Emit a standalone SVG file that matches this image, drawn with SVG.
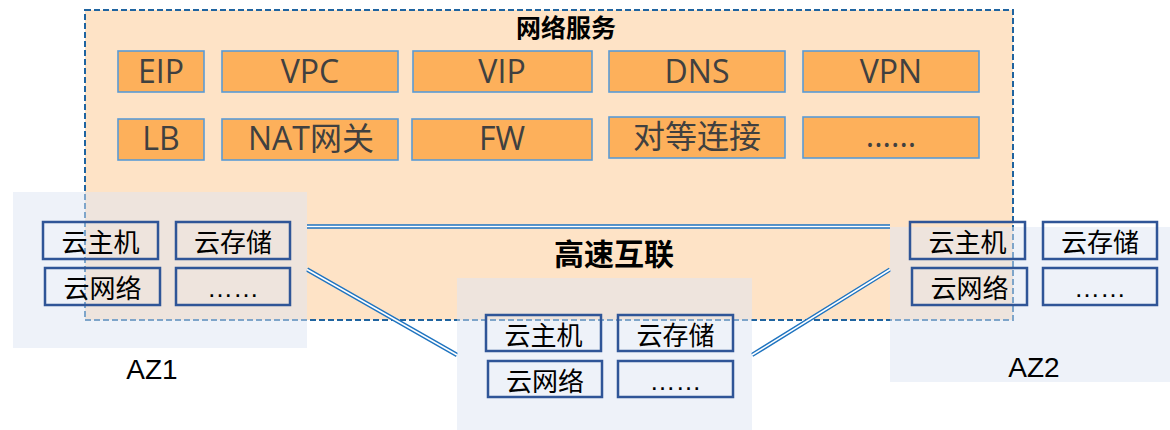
<svg xmlns="http://www.w3.org/2000/svg" width="1170" height="430" viewBox="0 0 1170 430">
<style>
.bg{fill:#fee3c6;stroke:#1f64a0;stroke-width:2;stroke-dasharray:6 3}
.ob{fill:#fdb05b;stroke:#5b9bd5;stroke-width:1.6}
.ot{font-family:"Open Sans","Noto Sans CJK SC",sans-serif;font-size:32px;fill:#404040;text-anchor:middle}
.ttl{font-family:"Noto Sans CJK SC",sans-serif;font-weight:bold;fill:#000;text-anchor:middle}
.panel{fill:#dde5f3;fill-opacity:0.5}
.ib{fill:none;stroke:#2f5597;stroke-width:2.5}
.it{font-family:"Noto Sans CJK SC",sans-serif;font-size:26px;fill:#000;text-anchor:middle;dominant-baseline:central}
.dots{font-family:"Liberation Sans",sans-serif;font-size:26px;fill:#000;text-anchor:middle}
.az{font-family:"Liberation Sans",sans-serif;font-size:28px;fill:#000;text-anchor:middle}
.lo{fill:none;stroke:#1f74c0;stroke-width:4.4}
.li{fill:none;stroke:#fff;stroke-width:1.5}
</style>
<g id="network-services">
<rect class="bg" x="85" y="10" width="928" height="310"/>
<text class="ttl" x="566" y="37" font-size="25">网络服务</text>
</g>
<g id="svc-eip"><rect class="ob" x="118" y="51" width="86" height="41"/><text class="ot" x="161" y="83">EIP</text></g>
<g id="svc-vpc"><rect class="ob" x="222" y="51" width="176" height="41"/><text class="ot" x="310" y="83">VPC</text></g>
<g id="svc-vip"><rect class="ob" x="413" y="51" width="179" height="41"/><text class="ot" x="502" y="83">VIP</text></g>
<g id="svc-dns"><rect class="ob" x="609" y="51" width="176" height="41"/><text class="ot" x="697" y="83">DNS</text></g>
<g id="svc-vpn"><rect class="ob" x="803" y="51" width="176" height="41"/><text class="ot" x="891" y="83">VPN</text></g>
<g id="svc-lb"><rect class="ob" x="118" y="119" width="86" height="41"/><text class="ot" x="161" y="150">LB</text></g>
<g id="svc-nat"><rect class="ob" x="222" y="119" width="176" height="41"/><text class="ot" x="311" y="150">NAT网关</text></g>
<g id="svc-fw"><rect class="ob" x="412" y="119" width="180" height="41"/><text class="ot" x="502" y="150">FW</text></g>
<g id="svc-peering"><rect class="ob" x="609" y="117" width="176" height="41"/><text class="ot" x="697" y="148">对等连接</text></g>
<g id="svc-more"><rect class="ob" x="803" y="117" width="176" height="41"/><text class="ot" x="891" y="147">......</text></g>
<g id="connectors">
<path class="lo" d="M307,226.5 H890 M307,269.5 L457,355 M752,355 L890,269.5"/>
<path class="li" d="M307,226.5 H890 M307,269.5 L457,355 M752,355 L890,269.5"/>
</g>
<g id="interconnect-label"><text class="ttl" x="614" y="265" font-size="30">高速互联</text></g>
<g id="az1">
<rect class="panel" x="13" y="192" width="294" height="156"/>
<rect class="ib" x="43" y="222" width="115" height="37"/><text class="it" x="100.5" y="240.5">云主机</text>
<rect class="ib" x="176" y="222" width="114" height="37"/><text class="it" x="233" y="240.5">云存储</text>
<rect class="ib" x="45" y="268" width="115" height="37"/><text class="it" x="102.5" y="286.5">云网络</text>
<rect class="ib" x="176" y="268" width="114" height="37"/><text class="dots" x="233" y="297">……</text>
<text class="az" x="152" y="379">AZ1</text>
</g>
<g id="az-middle">
<rect class="panel" x="457" y="278" width="295" height="152"/>
<rect class="ib" x="486" y="315" width="115" height="36"/><text class="it" x="543.5" y="333">云主机</text>
<rect class="ib" x="618" y="315" width="115" height="36"/><text class="it" x="675.5" y="333">云存储</text>
<rect class="ib" x="488" y="361" width="114" height="36"/><text class="it" x="545" y="379">云网络</text>
<rect class="ib" x="618" y="361" width="115" height="36"/><text class="dots" x="675.5" y="390">……</text>
</g>
<g id="az2">
<rect class="panel" x="890" y="227" width="280" height="155"/>
<rect class="ib" x="910" y="222" width="115" height="37"/><text class="it" x="967.5" y="240.5">云主机</text>
<rect class="ib" x="1043" y="222" width="114" height="37"/><text class="it" x="1100" y="240.5">云存储</text>
<rect class="ib" x="912" y="268" width="115" height="37"/><text class="it" x="969.5" y="286.5">云网络</text>
<rect class="ib" x="1043" y="268" width="114" height="37"/><text class="dots" x="1100" y="297">……</text>
<text class="az" x="1034" y="377">AZ2</text>
</g>
</svg>
